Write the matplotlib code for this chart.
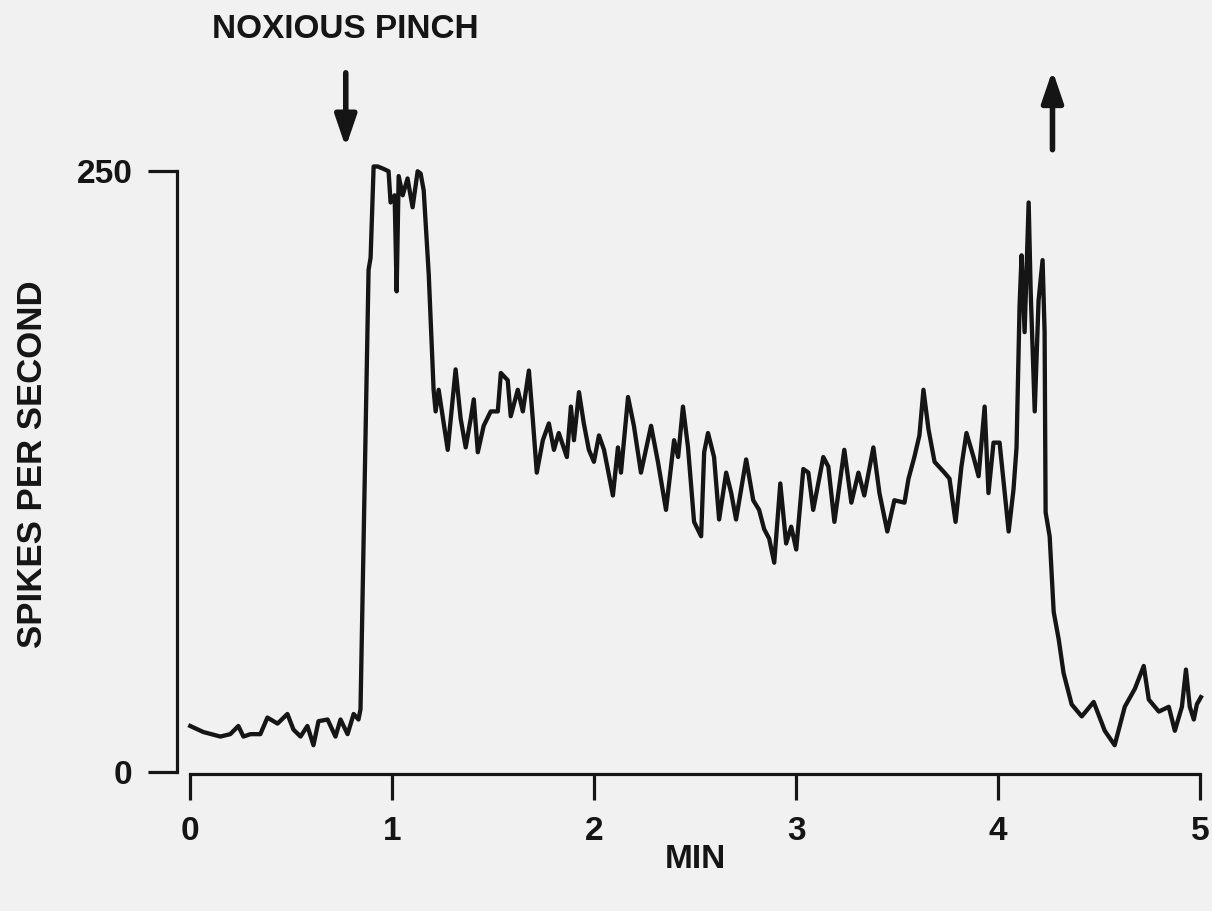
#!/usr/bin/env python3
"""Firing rate of a dorsal horn unit during a noxious pinch (redrawn trace)."""

import matplotlib

matplotlib.use("Agg")
import matplotlib.pyplot as plt

# time (min) and firing rate (spikes/s)
minutes = [
    0.000, 0.064, 0.149, 0.198, 0.238, 0.263, 0.298, 0.347, 0.382, 0.432,
    0.481, 0.511, 0.546, 0.580, 0.610, 0.635, 0.680, 0.719, 0.744, 0.779,
    0.809, 0.833, 0.843, 0.883, 0.893, 0.908, 0.928, 0.957, 0.982, 0.992,
    1.012, 1.022, 1.032, 1.052, 1.076, 1.101, 1.126, 1.141, 1.156, 1.181,
    1.205, 1.215, 1.230, 1.275, 1.314, 1.339, 1.364, 1.389, 1.404, 1.424,
    1.453, 1.488, 1.523, 1.538, 1.572, 1.587, 1.622, 1.647, 1.677, 1.696,
    1.716, 1.746, 1.776, 1.801, 1.825, 1.865, 1.885, 1.900, 1.925, 1.949,
    1.974, 1.999, 2.024, 2.049, 2.093, 2.118, 2.133, 2.168, 2.197, 2.232,
    2.282, 2.316, 2.356, 2.396, 2.416, 2.440, 2.465, 2.495, 2.530, 2.545,
    2.564, 2.594, 2.619, 2.654, 2.679, 2.703, 2.753, 2.788, 2.817, 2.842,
    2.867, 2.892, 2.922, 2.951, 2.976, 3.001, 3.036, 3.061, 3.085, 3.135,
    3.160, 3.190, 3.239, 3.274, 3.309, 3.338, 3.383, 3.413, 3.452, 3.487,
    3.537, 3.557, 3.586, 3.611, 3.631, 3.656, 3.686, 3.735, 3.760, 3.790,
    3.819, 3.844, 3.879, 3.904, 3.934, 3.953, 3.978, 4.008, 4.053, 4.077,
    4.092, 4.107, 4.117, 4.132, 4.152, 4.162, 4.182, 4.201, 4.221, 4.231,
    4.236, 4.256, 4.276, 4.301, 4.325, 4.365, 4.415, 4.474, 4.529, 4.578,
    4.628, 4.678, 4.722, 4.747, 4.797, 4.846, 4.876, 4.911, 4.931, 4.950,
    4.970, 4.985, 5.005,
]
spikes = [
    19, 16.5, 14.6, 15.6, 19, 14.6, 15.6, 15.6, 22.5, 20,
    24, 17.5, 14.6, 19, 11, 21, 21.7, 14.6, 21.7, 15.6,
    24, 21.7, 26, 209, 214, 252, 252, 251, 250, 237,
    240, 200, 248, 240, 247, 235, 250, 249, 242, 207,
    159, 150, 159, 134, 167.5, 147, 135, 147, 155, 133,
    144, 150, 150, 166, 163, 148, 159, 150, 167, 147,
    124.5, 138, 145, 134, 141, 131, 152, 138, 158, 145,
    134, 129, 140, 134, 115, 135, 124.5, 156, 144, 124.5,
    144, 129, 109, 138, 131, 152, 135, 104, 98, 133,
    141, 131, 105, 124.5, 116, 105, 130, 113, 109, 101,
    97, 87, 120, 95, 102, 92.5, 126, 124.5, 109, 131,
    127, 104, 134, 112, 124.5, 115, 135, 116, 100, 113,
    112, 122, 131, 140, 159, 142.5, 129, 124.5, 122, 104,
    127, 141, 131, 123, 152, 116, 137, 137, 100, 117.5,
    135, 194, 215, 183, 237, 200, 150, 196, 213, 183,
    108, 98, 66.5, 55, 41, 28, 23, 29, 17, 11,
    27, 34.5, 44, 30, 25, 27, 17, 27, 42.5, 27,
    21.7, 28, 31,
]

x_ticks = [0, 1, 2, 3, 4, 5]
y_ticks = [0, 250]
pinch_on = 0.77   # min
pinch_off = 4.27  # min

INK = "#151515"
PAPER = "#f1f1f1"

plt.rcParams["font.family"] = ["Liberation Sans", "DejaVu Sans"]
plt.rcParams["font.weight"] = "bold"

fig = plt.figure(figsize=(12.12, 9.11), dpi=100, facecolor=PAPER)
ax = fig.add_axes([0.157, 0.153, 0.833, 0.659], facecolor=PAPER)

ax.plot(minutes, spikes, color=INK, lw=3.1, clip_on=False,
        solid_joinstyle="round")

ax.set_xlim(0, 5)
ax.set_ylim(0, 250)

for side in ("top", "right"):
    ax.spines[side].set_visible(False)
ax.spines["left"].set_position(("outward", 9.5))
ax.spines["left"].set_bounds(0, 250)
ax.spines["bottom"].set_position(("outward", 2))
ax.spines["bottom"].set_bounds(0, 5)
for side in ("left", "bottom"):
    ax.spines[side].set_linewidth(2.3)
    ax.spines[side].set_color(INK)

ax.set_xticks(x_ticks)
ax.set_yticks(y_ticks)
ax.tick_params(axis="y", length=21, width=2.3, pad=11, labelsize=24,
               color=INK, labelcolor=INK)
ax.tick_params(axis="x", length=19, width=2.3, pad=11, labelsize=24,
               color=INK, labelcolor=INK)

fig.text(0.027, 0.49, "SPIKES PER SECOND", rotation=90, ha="center",
         va="center", fontsize=25, color=INK)
fig.text(0.574, 0.056, "MIN", ha="center", va="center", fontsize=24,
         color=INK)

arrow = dict(arrowstyle="-|>,head_width=0.65,head_length=1.9", lw=4,
             color=INK, shrinkA=0, shrinkB=0)
ax.annotate("", xy=(pinch_on, 260), xytext=(pinch_on, 291),
            arrowprops=arrow, annotation_clip=False)
ax.annotate("", xy=(pinch_off, 292), xytext=(pinch_off, 259),
            arrowprops=arrow, annotation_clip=False)
ax.text(pinch_on, 309, "NOXIOUS PINCH", ha="center", va="center",
        fontsize=24, color=INK, clip_on=False)

fig.savefig("out.png", dpi=100, facecolor=PAPER)
